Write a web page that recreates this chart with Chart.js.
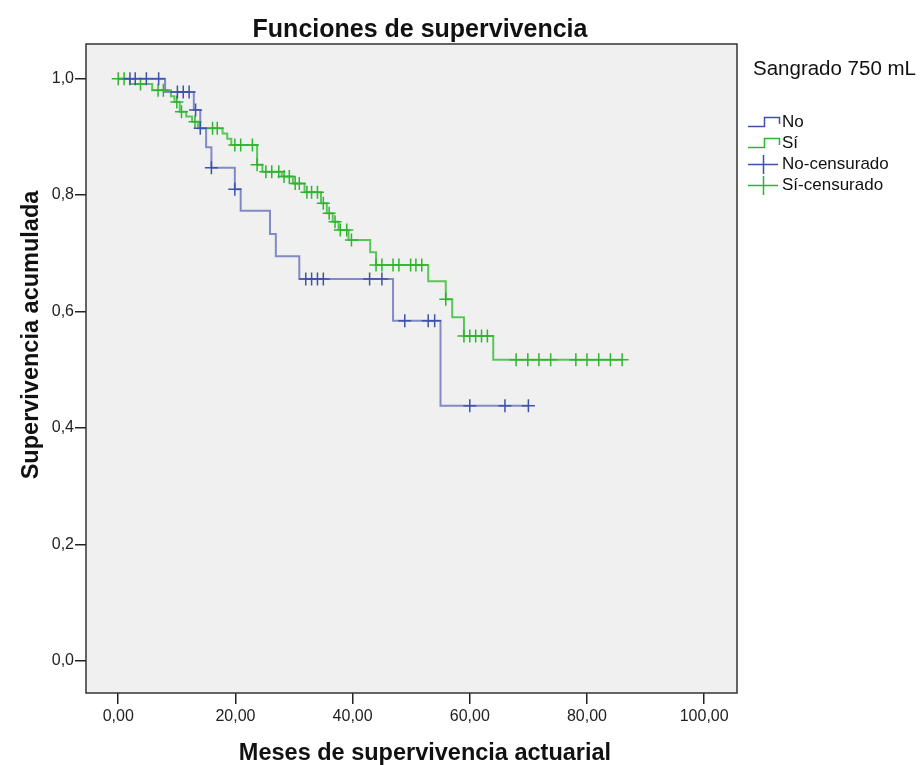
<!DOCTYPE html>
<html>
<head>
<meta charset="utf-8">
<script src="https://cdn.jsdelivr.net/npm/chart.js@4.4.1/dist/chart.umd.min.js"></script>
<style>
html,body{margin:0;padding:0;background:#fff;}
#wrap{position:relative;width:923px;height:765px;font-family:"Liberation Sans",Arial,sans-serif;color:#111;overflow:hidden;}
#c{position:absolute;left:0;top:0;}
#title{position:absolute;left:0;width:840px;top:13px;text-align:center;font-weight:bold;font-size:25px;line-height:30px;}
#xTitle{position:absolute;left:125px;width:600px;top:737px;text-align:center;font-weight:bold;font-size:23.5px;line-height:30px;white-space:nowrap;}
#yTitle{position:absolute;left:-170px;width:400px;top:320px;text-align:center;font-weight:bold;font-size:23.5px;line-height:30px;white-space:nowrap;transform:rotate(-90deg);transform-origin:50% 50%;}
#legTitle{position:absolute;left:753px;top:56px;font-size:20.5px;line-height:24px;white-space:nowrap;}
.leg{position:absolute;left:748px;height:22px;font-size:17px;line-height:22px;white-space:nowrap;}
.leg svg{position:absolute;left:0;top:0;}
.leg span{position:absolute;left:34px;top:0;}
</style>
</head>
<body>
<div id="wrap">
<canvas id="c" width="923" height="765"></canvas>
<div id="title">Funciones de supervivencia</div>
<div id="xTitle">Meses de supervivencia actuarial</div>
<div id="yTitle">Supervivencia acumulada</div>
<div id="legTitle">Sangrado 750 mL</div>
<div id="legend"></div>
</div>
<script>
// ---- data ----
const xTicks = [0, 20, 40, 60, 80, 100];
const xTickLabels = ['0,00', '20,00', '40,00', '60,00', '80,00', '100,00'];
const yTicks = [0, 0.2, 0.4, 0.6, 0.8, 1.0];
const yTickLabels = ['0,0', '0,2', '0,4', '0,6', '0,8', '1,0'];

const groupNames = ['No', 'Sí'];
const legendLabels = ['No', 'Sí', 'No-censurado', 'Sí-censurado'];

// "No" group: event times (months) and survival after each event
const noEventTimes = [8.0, 12.9, 14.0, 15.0, 15.9, 19.9, 20.9, 25.9, 26.9, 30.9, 46.9, 55.0];
const noSurvival   = [0.977, 0.946, 0.915, 0.882, 0.847, 0.810, 0.773, 0.733, 0.695, 0.656, 0.584, 0.438];
const noCensorTimes = [2.0, 2.9, 4.8, 6.9, 10.1, 11.1, 12.1, 13.2, 14.0, 15.9, 19.9, 32.0, 33.0, 34.0, 35.0, 42.9, 45.0, 48.9, 52.9, 54.0, 60.0, 66.0, 70.0];

// "Sí" group
const siEventTimes = [2.0, 5.8, 9.0, 9.6, 10.5, 11.6, 12.6, 13.6, 17.8, 18.6, 19.3, 23.7, 24.6, 27.9, 29.8, 31.8, 34.6, 35.6, 36.6, 37.6, 39.3, 43.0, 44.0, 52.9, 55.9, 57.0, 59.0, 64.0];
const siSurvival   = [0.991, 0.980, 0.970, 0.960, 0.943, 0.935, 0.926, 0.915, 0.906, 0.897, 0.886, 0.852, 0.840, 0.832, 0.820, 0.805, 0.786, 0.769, 0.754, 0.740, 0.723, 0.702, 0.680, 0.652, 0.621, 0.590, 0.558, 0.517];
const siCensorTimes = [0, 1.0, 3.8, 6.8, 7.7, 10.0, 10.8, 13.1, 16.1, 16.9, 19.9, 20.9, 22.9, 23.7, 25.2, 26.2, 27.4, 28.3, 29.2, 30.2, 30.9, 32.2, 33.0, 34.0, 35.0, 36.0, 37.0, 37.9, 39.0, 39.8, 44.0, 45.0, 46.9, 47.9, 49.9, 50.8, 51.8, 55.9, 59.0, 60.0, 61.0, 62.0, 63.0, 67.9, 69.9, 71.8, 73.8, 78.1, 80.0, 82.0, 84.0, 86.0];

// ---- build step curves and censor marks ----
function survivalAt(times, surv, t) {
  let s = 1.0;
  for (let i = 0; i < times.length; i++) { if (times[i] <= t) s = surv[i]; }
  return s;
}
function stepCurve(times, surv, censors) {
  const pts = [{x: 0, y: 1.0}];
  times.forEach((t, i) => pts.push({x: t, y: surv[i]}));
  const last = Math.max(times[times.length - 1], censors[censors.length - 1]);
  pts.push({x: last, y: survivalAt(times, surv, last)});
  return pts;
}
function censorPoints(times, surv, censors) {
  return censors.map(t => ({x: t, y: survivalAt(times, surv, t)}));
}

const blueLine = 'rgba(84,100,180,0.72)';
const blueMark = '#3d52a8';
const greenLine = 'rgba(64,190,64,0.85)';
const greenMark = '#2fb42f';

const plotFrame = {
  id: 'plotFrame',
  beforeDatasetsDraw(chart) {
    const {ctx, chartArea: {left, top, right, bottom}} = chart;
    ctx.save();
    ctx.fillStyle = '#f0f0f0';
    ctx.fillRect(left, top, right - left, bottom - top);
    ctx.restore();
  },
  afterDraw(chart) {
    const {ctx, chartArea: {left, top, right, bottom}} = chart;
    ctx.save();
    ctx.strokeStyle = '#333';
    ctx.lineWidth = 1.5;
    ctx.strokeRect(left, top, right - left, bottom - top);
    ctx.restore();
  }
};

const tickFont = {family: '"Liberation Sans", Arial, sans-serif', size: 16};

new Chart(document.getElementById('c'), {
  type: 'line',
  data: {
    datasets: [
      {label: groupNames[0], data: stepCurve(noEventTimes, noSurvival, noCensorTimes), stepped: 'before',
       borderColor: blueLine, borderWidth: 2, pointRadius: 0, fill: false, order: 2},
      {label: groupNames[1], data: stepCurve(siEventTimes, siSurvival, siCensorTimes), stepped: 'before',
       borderColor: greenLine, borderWidth: 2, pointRadius: 0, fill: false, order: 2},
      {type: 'scatter', label: legendLabels[2], data: censorPoints(noEventTimes, noSurvival, noCensorTimes),
       pointStyle: 'cross', pointRadius: 6.5, borderColor: blueMark, pointBorderWidth: 1.5, showLine: false, order: 1},
      {type: 'scatter', label: legendLabels[3], data: censorPoints(siEventTimes, siSurvival, siCensorTimes),
       pointStyle: 'cross', pointRadius: 6.5, borderColor: greenMark, pointBorderWidth: 1.5, showLine: false, order: 1}
    ]
  },
  options: {
    responsive: false,
    animation: false,
    devicePixelRatio: 1,
    layout: {padding: {top: 44, right: 186, bottom: 0, left: 0}},
    plugins: {legend: {display: false}, tooltip: {enabled: false}, title: {display: false}},
    scales: {
      x: {
        type: 'linear', min: -5.5, max: 105.6,
        afterBuildTicks: s => { s.ticks = xTicks.map(v => ({value: v})); },
        afterFit: s => { s.height = 72; },
        border: {display: false},
        grid: {drawOnChartArea: false, drawTicks: true, tickLength: 11, color: '#222', lineWidth: 1.5},
        ticks: {autoSkip: false, maxRotation: 0, padding: 3, color: '#222', font: tickFont,
                callback: (v, i) => xTickLabels[i]},
        title: {display: false}
      },
      y: {
        type: 'linear', min: -0.0555, max: 1.0596,
        afterBuildTicks: s => { s.ticks = yTicks.map(v => ({value: v})); },
        afterFit: s => { s.width = 86; },
        border: {display: false},
        grid: {drawOnChartArea: false, drawTicks: true, tickLength: 11, color: '#222', lineWidth: 1.5},
        ticks: {autoSkip: false, padding: 1, color: '#222', font: tickFont,
                callback: (v, i) => yTickLabels[i]},
        title: {display: false}
      }
    }
  },
  plugins: [plotFrame]
});

// ---- legend (HTML) ----
const legRows = [
  {label: legendLabels[0], color: blueMark, kind: 'step', top: 111},
  {label: legendLabels[1], color: greenMark, kind: 'step', top: 132},
  {label: legendLabels[2], color: blueMark, kind: 'cross', top: 153},
  {label: legendLabels[3], color: greenMark, kind: 'cross', top: 174}
];
const legend = document.getElementById('legend');
legRows.forEach(r => {
  const d = document.createElement('div');
  d.className = 'leg';
  d.style.top = r.top + 'px';
  const path = r.kind === 'step'
    ? '<path d="M0 15.5 H16.5 V6.5 H31.5 V13" fill="none" stroke="' + r.color + '" stroke-width="1.5"/>'
    : '<path d="M0 11.5 H30 M15.5 2 V21" fill="none" stroke="' + r.color + '" stroke-width="1.5"/>';
  d.innerHTML = '<svg width="34" height="22" viewBox="0 0 34 22">' + path + '</svg><span>' + r.label + '</span>';
  legend.appendChild(d);
});
</script>
</body>
</html>
